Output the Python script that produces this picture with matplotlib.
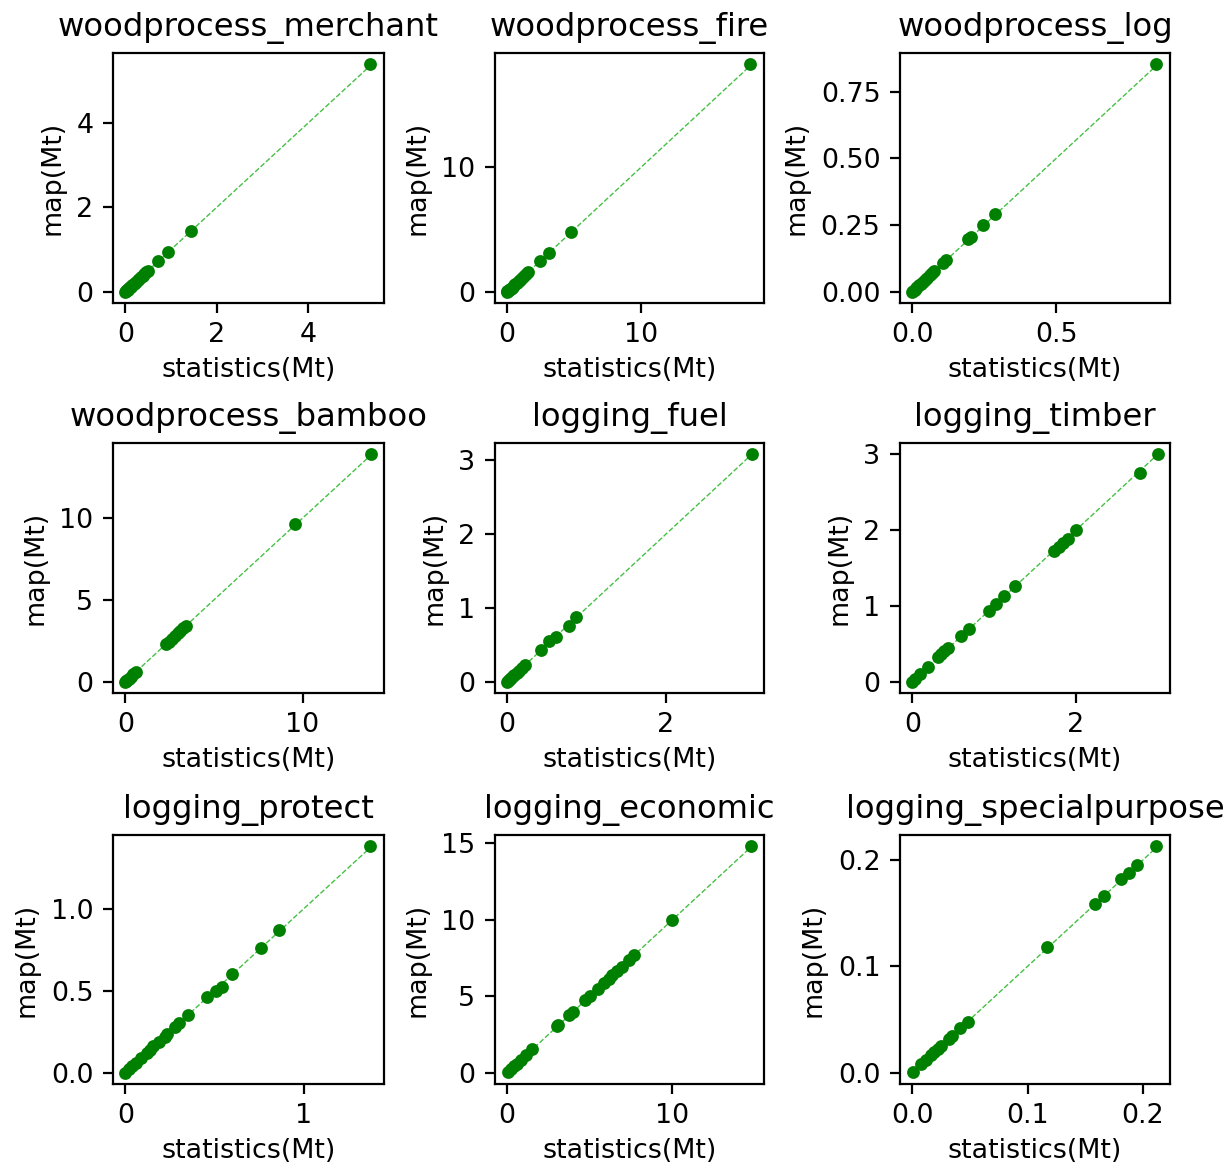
import numpy as np
import matplotlib.pyplot as plt

titles = ['woodprocess_merchant', 'woodprocess_fire', 'woodprocess_log',
          'woodprocess_bamboo', 'logging_fuel', 'logging_timber',
          'logging_protect', 'logging_economic', 'logging_specialpurpose']

# statistics vs map values (Mt)
stat_merchant = [5.37, 1.43, 0.94, 0.72, 0.50, 0.46, 0.42, 0.38, 0.35, 0.31, 0.27, 0.24, 0.21,
                 0.18, 0.15, 0.12, 0.10, 0.08, 0.06, 0.05, 0.04, 0.03, 0.02, 0.01, 0.005, 0.0]
map_merchant = [5.40, 1.44, 0.95, 0.73, 0.50, 0.46, 0.42, 0.38, 0.35, 0.31, 0.27, 0.24, 0.21,
                0.18, 0.15, 0.12, 0.10, 0.08, 0.06, 0.05, 0.04, 0.03, 0.02, 0.01, 0.005, 0.0]

stat_fire = [18.2, 4.74, 3.13, 2.42, 1.53, 1.40, 1.25, 1.10, 0.95, 0.85, 0.72, 0.60, 0.50,
             0.40, 0.32, 0.25, 0.18, 0.12, 0.08, 0.05, 0.02, 0.0]
map_fire = [18.3, 4.80, 3.15, 2.45, 1.55, 1.41, 1.26, 1.11, 0.96, 0.85, 0.72, 0.60, 0.50,
            0.40, 0.32, 0.25, 0.18, 0.12, 0.08, 0.05, 0.02, 0.0]

stat_log = [0.847, 0.287, 0.247, 0.203, 0.194, 0.117, 0.106, 0.077, 0.070, 0.062, 0.052,
            0.045, 0.038, 0.030, 0.024, 0.018, 0.012, 0.008, 0.004, 0.0]
map_log = [0.853, 0.292, 0.250, 0.204, 0.198, 0.120, 0.108, 0.078, 0.071, 0.063, 0.052,
           0.045, 0.038, 0.030, 0.024, 0.018, 0.012, 0.008, 0.004, 0.0]

stat_bamboo = [13.86, 9.59, 3.40, 3.25, 3.10, 2.95, 2.80, 2.62, 2.45, 2.30, 0.60, 0.45,
               0.30, 0.18, 0.10, 0.05, 0.02, 0.0]
map_bamboo = [13.90, 9.65, 3.40, 3.25, 3.10, 2.95, 2.80, 2.62, 2.45, 2.30, 0.60, 0.45,
              0.30, 0.18, 0.10, 0.05, 0.02, 0.0]

stat_fuel = [3.08, 0.86, 0.78, 0.61, 0.53, 0.42, 0.22, 0.18, 0.15, 0.12, 0.09, 0.07,
             0.05, 0.03, 0.02, 0.01, 0.0]
map_fuel = [3.08, 0.87, 0.76, 0.61, 0.55, 0.43, 0.22, 0.18, 0.15, 0.12, 0.09, 0.07,
            0.05, 0.03, 0.02, 0.01, 0.0]

stat_timber = [3.00, 2.78, 2.00, 1.90, 1.84, 1.79, 1.73, 1.26, 1.12, 1.02, 0.94, 0.69,
               0.59, 0.44, 0.39, 0.35, 0.32, 0.19, 0.10, 0.03, 0.0]
map_timber = [3.00, 2.76, 2.00, 1.88, 1.83, 1.78, 1.72, 1.26, 1.13, 1.03, 0.93, 0.69,
              0.60, 0.44, 0.40, 0.36, 0.32, 0.19, 0.10, 0.03, 0.0]

stat_protect = [1.37, 0.86, 0.76, 0.60, 0.54, 0.51, 0.46, 0.35, 0.30, 0.28, 0.235, 0.22,
                0.19, 0.155, 0.14, 0.12, 0.087, 0.06, 0.04, 0.02, 0.0]
map_protect = [1.38, 0.87, 0.76, 0.60, 0.52, 0.50, 0.46, 0.35, 0.30, 0.28, 0.235, 0.22,
               0.19, 0.16, 0.14, 0.12, 0.087, 0.06, 0.04, 0.02, 0.0]

stat_economic = [14.75, 9.96, 7.68, 7.37, 6.93, 6.63, 6.37, 6.13, 5.87, 5.47, 4.99, 4.69,
                 3.99, 3.73, 3.10, 3.00, 1.48, 1.14, 0.84, 0.60, 0.44, 0.25, 0.04]
map_economic = [14.8, 10.0, 7.70, 7.37, 6.93, 6.63, 6.37, 6.13, 5.87, 5.47, 4.99, 4.72,
                3.99, 3.75, 3.15, 3.02, 1.55, 1.14, 0.84, 0.60, 0.44, 0.25, 0.04]

stat_special = [0.2113, 0.1946, 0.1877, 0.1812, 0.1662, 0.1582, 0.1172, 0.0484, 0.0415,
                0.0344, 0.0320, 0.0249, 0.0220, 0.0190, 0.0163, 0.0123, 0.0080, 0.0006]
map_special = [0.2130, 0.1950, 0.1880, 0.1820, 0.1660, 0.1590, 0.1180, 0.0480, 0.0420,
               0.0345, 0.0320, 0.0250, 0.0220, 0.0190, 0.0163, 0.0123, 0.0080, 0.0006]

stats = [stat_merchant, stat_fire, stat_log, stat_bamboo, stat_fuel, stat_timber,
         stat_protect, stat_economic, stat_special]
maps = [map_merchant, map_fire, map_log, map_bamboo, map_fuel, map_timber,
        map_protect, map_economic, map_special]

plt.rcParams['font.size'] = 9.7

W, H = 1229, 1168
fig = plt.figure(figsize=(W / 200, H / 200), dpi=200)

# axes edges in pixels (left, right) per column and (top, bottom) per row
cols = [(113, 384), (495, 764), (900, 1170)]
rows = [(53, 303), (443, 693), (835, 1084)]

for i, (title, x, y) in enumerate(zip(titles, stats, maps)):
    l, r = cols[i % 3]
    t, b = rows[i // 3]
    ax = fig.add_axes([l / W, 1 - b / H, (r - l) / W, (b - t) / H])
    x = np.array(x)
    y = np.array(y)
    top = max(x.max(), y.max())
    ax.plot([0, top], [0, top], '--', color='#44c044', linewidth=0.5)
    ax.scatter(x, y, color='green', s=13, zorder=3)
    ax.set_title(title)
    ax.set_xlabel('statistics(Mt)', labelpad=3)
    ax.set_ylabel('map(Mt)')

plt.savefig('out.png')
